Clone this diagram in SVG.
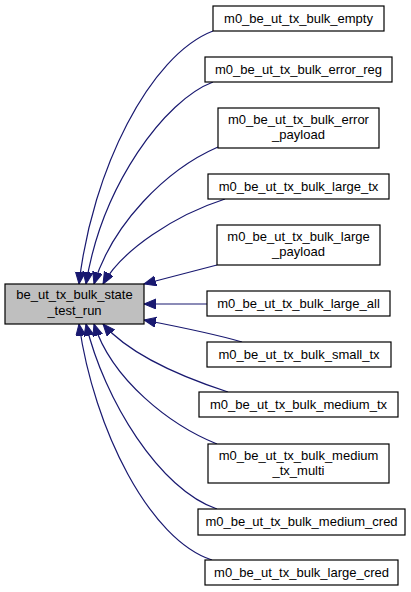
<svg xmlns="http://www.w3.org/2000/svg" width="411" height="592" viewBox="0 0 411 592">
<style>
.n rect{fill:#ffffff;stroke:#000000;stroke-width:1.2}
.n.main rect{fill:#bfbfbf}
text{font-family:"Liberation Sans",Arial,sans-serif;font-size:13px;text-anchor:middle;fill:#000000}
.e path{fill:none;stroke:#191970;stroke-width:1.2;marker-end:url(#arr)}
</style>
<defs>
<marker id="arr" markerUnits="userSpaceOnUse" markerWidth="14" markerHeight="12" refX="12" refY="5" orient="auto">
<path d="M0,0 L12,5 L0,10 z" fill="#191970" stroke="#191970" stroke-width="1"/>
</marker>
</defs>
<rect width="411" height="592" fill="#ffffff"/>
<g id="edges" class="e">
<path d="M213,31 C150,55 92,170 79,284"/>
<path d="M213,82 C165,100 102,185 86,284"/>
<path d="M218,147 C165,170 112,225 94,284"/>
<path d="M225,199 C175,215 122,250 103,284"/>
<path d="M217,265 L144,284"/>
<path d="M207,304 L144,304"/>
<path d="M242,342 C215,334 180,327 144,320"/>
<path d="M228,392 C185,378 130,355 103,324"/>
<path d="M217,444 C170,425 112,380 94,324"/>
<path d="M217,509 C160,490 104,400 86,324"/>
<path d="M212,560 C150,540 94,430 79,324"/>
</g>
<g id="be_ut_tx_bulk_state_test_run" class="n main">
<rect x="5" y="284" width="139" height="40"/>
<text x="74.5" y="299">be_ut_tx_bulk_state</text>
<text x="74.5" y="315">_test_run</text>
</g>
<g id="m0_be_ut_tx_bulk_empty" class="n">
<rect x="213" y="6" width="171" height="25"/>
<text x="298.5" y="23">m0_be_ut_tx_bulk_empty</text>
</g>
<g id="m0_be_ut_tx_bulk_error_reg" class="n">
<rect x="205" y="57" width="187" height="25"/>
<text x="298.5" y="74">m0_be_ut_tx_bulk_error_reg</text>
</g>
<g id="m0_be_ut_tx_bulk_error_payload" class="n">
<rect x="218" y="108" width="161" height="40"/>
<text x="298.5" y="124">m0_be_ut_tx_bulk_error</text>
<text x="298.5" y="139">_payload</text>
</g>
<g id="m0_be_ut_tx_bulk_large_tx" class="n">
<rect x="208" y="174" width="181" height="25"/>
<text x="298.5" y="191">m0_be_ut_tx_bulk_large_tx</text>
</g>
<g id="m0_be_ut_tx_bulk_large_payload" class="n">
<rect x="217" y="225" width="163" height="40"/>
<text x="298.5" y="241">m0_be_ut_tx_bulk_large</text>
<text x="298.5" y="256">_payload</text>
</g>
<g id="m0_be_ut_tx_bulk_large_all" class="n">
<rect x="207" y="291" width="183" height="25"/>
<text x="298.5" y="308">m0_be_ut_tx_bulk_large_all</text>
</g>
<g id="m0_be_ut_tx_bulk_small_tx" class="n">
<rect x="207" y="342" width="184" height="25"/>
<text x="299" y="359">m0_be_ut_tx_bulk_small_tx</text>
</g>
<g id="m0_be_ut_tx_bulk_medium_tx" class="n">
<rect x="199" y="392" width="199" height="25"/>
<text x="298.5" y="409">m0_be_ut_tx_bulk_medium_tx</text>
</g>
<g id="m0_be_ut_tx_bulk_medium_tx_multi" class="n">
<rect x="208" y="444" width="181" height="39"/>
<text x="298.5" y="460">m0_be_ut_tx_bulk_medium</text>
<text x="298.5" y="475">_tx_multi</text>
</g>
<g id="m0_be_ut_tx_bulk_medium_cred" class="n">
<rect x="198" y="509" width="207" height="26"/>
<text x="301.5" y="526">m0_be_ut_tx_bulk_medium_cred</text>
</g>
<g id="m0_be_ut_tx_bulk_large_cred" class="n">
<rect x="205" y="560" width="193" height="25"/>
<text x="301.5" y="577">m0_be_ut_tx_bulk_large_cred</text>
</g>
</svg>
